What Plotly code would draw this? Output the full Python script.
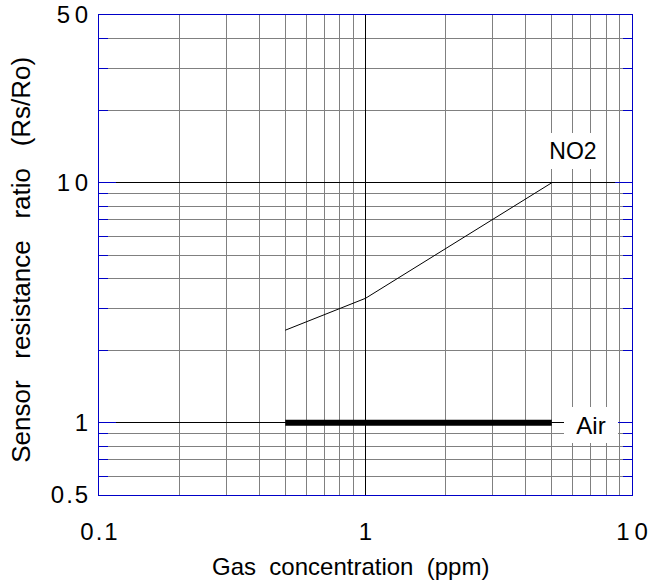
import numpy as np
import plotly.graph_objects as go

# ---- data ----
no2_x = [0.5, 1, 5]
no2_y = [2.43, 3.3, 10]
air_x = [0.5, 5]
air_y = [1, 1]

x_major = [0.1, 1, 10]
x_major_text = ["0\u200a.\u200a1", "1", "1\u20090"]
x_minor = [0.2, 0.3, 0.4, 0.5, 0.6, 0.7, 0.8, 0.9, 2, 3, 4, 5, 6, 7, 8, 9]
y_major = [0.5, 1, 10, 50]
y_major_text = ["0\u200a.\u200a5", "1", "1\u20090", "5\u20090"]
y_minor = [0.6, 0.7, 0.8, 0.9, 2, 3, 4, 5, 6, 7, 8, 9, 20, 30, 40]

x_title = "Gas\u00a0\u00a0concentration\u00a0\u00a0(ppm)"
y_title = "Sensor\u00a0\u00a0\u00a0resistance\u00a0\u00a0\u00a0ratio\u00a0\u00a0\u00a0(Rs/Ro)"

FONT = "Liberation Sans, Arial, sans-serif"
BLUE = "#0000c8"
GRAY = "#808080"

fig = go.Figure()
fig.add_trace(go.Scatter(x=no2_x, y=no2_y, mode="lines", name="NO2",
                         line=dict(color="black", width=1), showlegend=False))
fig.add_trace(go.Scatter(x=air_x, y=air_y, mode="lines", name="Air",
                         line=dict(color="black", width=6), showlegend=False))

fig.add_annotation(x=np.log10(6), y=np.log10(13.5), text="NO2", showarrow=False,
                   font=dict(family=FONT, size=23, color="black"),
                   bgcolor="white", width=50, height=32, borderpad=2, borderwidth=0)
fig.add_annotation(x=np.log10(7), y=np.log10(1), yshift=-2, text="Air", showarrow=False,
                   font=dict(family=FONT, size=24, color="black"),
                   bgcolor="white", width=50, height=32, borderpad=2, borderwidth=0)

# axis titles (paper annotations, placed to match the reference)
fig.add_annotation(xref="paper", yref="paper", x=0.471, y=0, yshift=-71,
                   xanchor="center", yanchor="middle", showarrow=False,
                   text=x_title, font=dict(family=FONT, size=24, color="black"))
fig.add_annotation(xref="paper", yref="paper", x=0, y=0.49, xshift=-78,
                   xanchor="center", yanchor="middle", showarrow=False, textangle=-90,
                   text=y_title, font=dict(family=FONT, size=26, color="black"))

fig.update_xaxes(
    type="log", range=[-1, 1],
    tickmode="array", tickvals=x_major, ticktext=x_major_text,
    ticks="", ticklabelstandoff=15, ticklabeloverflow="allow",
    showgrid=True, gridcolor="black", gridwidth=1,
    showline=True, linecolor=BLUE, linewidth=1, mirror=True,
    zeroline=False,
    tickfont=dict(family=FONT, size=24, color="black"),
    minor=dict(tickmode="array", tickvals=x_minor, showgrid=True,
               gridcolor=GRAY, gridwidth=1, ticks=""),
)
fig.update_yaxes(
    type="log", range=[np.log10(0.5), np.log10(50)],
    tickmode="array", tickvals=y_major, ticktext=y_major_text,
    ticks="inside", ticklen=17, tickcolor=BLUE, tickwidth=1,
    ticklabelstandoff=5, ticklabeloverflow="allow",
    showgrid=True, gridcolor="black", gridwidth=1,
    showline=True, linecolor=BLUE, linewidth=1, mirror="ticks",
    zeroline=False,
    tickfont=dict(family=FONT, size=24, color="black"),
    minor=dict(tickmode="array", tickvals=y_minor, showgrid=True,
               gridcolor=GRAY, gridwidth=1, ticks="inside", ticklen=9,
               tickcolor=BLUE, tickwidth=1),
)

fig.update_layout(
    width=651, height=580,
    margin=dict(l=99, r=19, t=15, b=85, autoexpand=False),
    paper_bgcolor="white", plot_bgcolor="white",
    showlegend=False,
)

fig.write_html(
    "out.html",
    config={"displayModeBar": False},
    post_script="document.body.style.margin='0';document.body.style.overflow='hidden';",
)
